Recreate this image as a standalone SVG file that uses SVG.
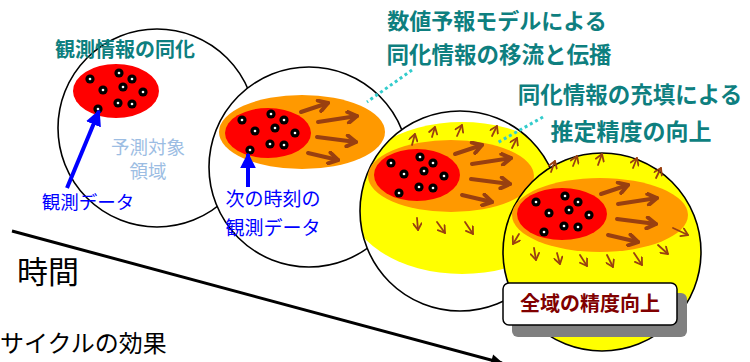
<svg xmlns="http://www.w3.org/2000/svg" xmlns:xlink="http://www.w3.org/1999/xlink" width="750" height="362" viewBox="0 0 750 362">
<style>
.ring{stroke:#000;stroke-width:1.6}
.jp{font-family:"Noto Sans CJK JP","Noto Sans",sans-serif}
.teal{fill:#0E7F7F;font-weight:bold}
.blue{fill:#0000FF}
.pale{fill:#9CBDE3}
.brown{stroke:#994010;fill:none;stroke-linecap:round}
.big{stroke-width:4;marker-end:url(#chevBig)}
.small{stroke-width:1.8;marker-end:url(#chevSmall)}
.leader{stroke:#33CCCC;stroke-width:3;stroke-dasharray:3 3;fill:none}
</style>
<defs>
<marker id="chevBig" viewBox="0 0 14 14" refX="12" refY="7" markerWidth="14" markerHeight="14" orient="auto" markerUnits="userSpaceOnUse">
<path d="M3,1.5 L12,7 L3,12.5" fill="none" stroke="#994010" stroke-width="4" stroke-linecap="round" stroke-linejoin="round"/>
</marker>
<marker id="chevSmall" viewBox="0 0 10 10" refX="9" refY="5" markerWidth="10" markerHeight="10" orient="auto" markerUnits="userSpaceOnUse">
<path d="M2.5,0.8 L9,5 L2.5,9.2" fill="none" stroke="#994010" stroke-width="1.8" stroke-linecap="round" stroke-linejoin="round"/>
</marker>
<marker id="blueHead" viewBox="0 0 10 10" refX="9" refY="5" markerWidth="4" markerHeight="4" orient="auto" markerUnits="strokeWidth">
<path d="M0,0 L10,5 L0,10 Z" fill="#0000FF"/>
</marker>
<marker id="blackHead" viewBox="0 0 10 10" refX="9" refY="5" markerWidth="5" markerHeight="4" orient="auto" markerUnits="strokeWidth">
<path d="M0,0 L10,5 L0,10 Z" fill="#000"/>
</marker>
<g id="dots">
<g fill="#000">
<circle cx="-26" cy="-12" r="4.6"/><circle cx="3" cy="-18" r="4.6"/><circle cx="16" cy="-12" r="4.6"/>
<circle cx="-13" cy="-1" r="4.6"/><circle cx="7" cy="-4" r="4.6"/><circle cx="27" cy="1" r="4.6"/>
<circle cx="2" cy="12" r="4.6"/><circle cx="16" cy="13" r="4.6"/><circle cx="-18" cy="18" r="4.6"/>
</g>
<g fill="#fff">
<circle cx="-26" cy="-12" r="1.3"/><circle cx="3" cy="-18" r="1.3"/><circle cx="16" cy="-12" r="1.3"/>
<circle cx="-13" cy="-1" r="1.3"/><circle cx="7" cy="-4" r="1.3"/><circle cx="27" cy="1" r="1.3"/>
<circle cx="2" cy="12" r="1.3"/><circle cx="16" cy="13" r="1.3"/><circle cx="-18" cy="18" r="1.3"/>
</g>
</g>
<g id="bigArrows">
<path class="brown big" d="M301,112 L328,103"/>
<path class="brown big" d="M318,122 L357,116"/>
<path class="brown big" d="M317,137 L356,142"/>
<path class="brown big" d="M308,153 L338,160"/>
</g>
<clipPath id="clip3"><circle cx="460" cy="211" r="100"/></clipPath>
</defs>

<g id="time-axis">
<line x1="12" y1="231" x2="502" y2="363" stroke="#000" stroke-width="3" marker-end="url(#blackHead)"/>
<text class="jp" x="17" y="283" font-size="31" fill="#000">時間</text>
<text class="jp" x="0" y="352" font-size="24" fill="#000">サイクルの効果</text>
</g>

<g id="step1">
<circle class="ring" cx="157" cy="128" r="99" fill="#fff"/>
<ellipse cx="116" cy="91" rx="43" ry="27" fill="#FF0000"/>
<use href="#dots" x="116" y="91"/>
<text class="jp teal" x="125" y="57" font-size="20" text-anchor="middle">観測情報の同化</text>
<text class="jp pale" font-size="18.5" text-anchor="middle"><tspan x="148" y="154">予測対象</tspan><tspan x="148" y="178">領域</tspan></text>
<line x1="67" y1="188" x2="99" y2="111" stroke="#0000FF" stroke-width="4" marker-end="url(#blueHead)"/>
<text class="jp blue" x="88" y="209" font-size="18.5" text-anchor="middle">観測データ</text>
</g>

<g id="step2">
<circle class="ring" cx="309" cy="167" r="100" fill="#fff"/>
<ellipse cx="302" cy="132" rx="83" ry="37" fill="#FF9900"/>
<ellipse cx="268" cy="133" rx="43" ry="25" fill="#FF0000"/>
<use href="#dots" x="268" y="132"/>
<use href="#bigArrows"/>
<line x1="248" y1="187" x2="248" y2="154" stroke="#0000FF" stroke-width="4" marker-end="url(#blueHead)"/>
<text class="jp blue" x="273" y="206" font-size="19" text-anchor="middle">次の時刻の</text>
<text class="jp blue" x="273" y="235" font-size="19" text-anchor="middle">観測データ</text>
</g>

<g id="step3">
<circle cx="460" cy="211" r="100" fill="#fff"/>
<ellipse cx="462" cy="198" rx="115" ry="76" fill="#FFFF00" clip-path="url(#clip3)"/>
<circle class="ring" cx="460" cy="211" r="100" fill="none"/>
<ellipse cx="451" cy="176" rx="83" ry="36" fill="#FF9900"/>
<ellipse cx="417" cy="175" rx="43" ry="26" fill="#FF0000"/>
<use href="#dots" x="417" y="175"/>
<use href="#bigArrows" transform="translate(154,42)"/>
<path class="brown small" d="M412,145 L415,134"/>
<path class="brown small" d="M432,137 L435,127"/>
<path class="brown small" d="M457,136 L462,125"/>
<path class="brown small" d="M492,136 L497,126"/>
<path class="brown small" d="M512,148 L517,138"/>
<path class="brown small" d="M417,218 L418,230"/>
<path class="brown small" d="M437,222 L445,233"/>
<path class="brown small" d="M465,222 L473,234"/>
</g>

<g id="step4">
<circle class="ring" cx="602" cy="252" r="99" fill="#FFFF00"/>
<ellipse cx="600" cy="215" rx="88" ry="37" fill="#FF9900"/>
<ellipse cx="562" cy="214" rx="45" ry="26" fill="#FF0000"/>
<use href="#dots" x="562" y="214"/>
<use href="#bigArrows" transform="translate(300,82)"/>
<path class="brown small" d="M551,172 L555,161"/>
<path class="brown small" d="M573,166 L577,156"/>
<path class="brown small" d="M598,165 L602,154"/>
<path class="brown small" d="M633,168 L637,158"/>
<path class="brown small" d="M656,178 L661,168"/>
<path class="brown small" d="M673,228 L688,235"/>
<path class="brown small" d="M519,234 L513,244"/>
<path class="brown small" d="M534,248 L536,260"/>
<path class="brown small" d="M557,253 L560,264"/>
<path class="brown small" d="M580,255 L587,266"/>
<path class="brown small" d="M607,255 L613,267"/>
<path class="brown small" d="M634,253 L642,265"/>
<path class="brown small" d="M658,245 L668,254"/>
</g>

<g id="label-accuracy">
<rect x="512" y="293" width="175" height="44" rx="6" fill="#808080"/>
<rect x="503" y="283" width="174" height="42" rx="6" fill="#fff" stroke="#000" stroke-width="1.5"/>
<text class="jp" x="590" y="311" font-size="20" font-weight="bold" fill="#800000" text-anchor="middle">全域の精度向上</text>
</g>

<g id="notes">
<text class="jp teal" x="497" y="29" font-size="22" text-anchor="middle">数値予報モデルによる</text>
<text class="jp teal" x="499" y="63" font-size="22.5" text-anchor="middle">同化情報の移流と伝播</text>
<text class="jp teal" x="630" y="103" font-size="22.5" text-anchor="middle">同化情報の充填による</text>
<text class="jp teal" x="631" y="140" font-size="23" text-anchor="middle">推定精度の向上</text>
</g>

<g id="connectors">
<line class="leader" x1="412" y1="70" x2="367" y2="102"/>
<line class="leader" x1="543" y1="117" x2="497" y2="143"/>
</g>
</svg>
